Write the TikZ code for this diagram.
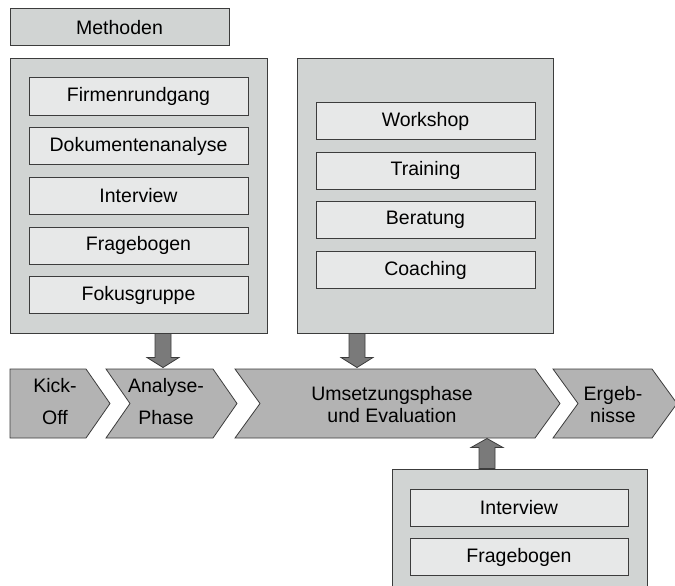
\documentclass[tikz,border=0pt]{standalone}
\usepackage{fontspec}
\setmainfont{Liberation Sans}
\definecolor{panelgray}{HTML}{D1D4D3}
\definecolor{itemgray}{HTML}{E7E8E8}
\definecolor{phasegray}{HTML}{B3B3B3}
\definecolor{arrowgray}{HTML}{7A7A7A}
\definecolor{edgegray}{HTML}{3C3C3C}
\begin{document}
\begin{tikzpicture}[x=1pt,y=-1pt,
  every node/.style={font=\fontsize{19.5}{22}\selectfont, inner sep=0pt},
  panel/.style={draw=edgegray, line width=1pt, fill=panelgray, rectangle},
  item/.style={draw=edgegray, line width=1pt, fill=itemgray, rectangle,
    minimum width=219pt, minimum height=37pt},
  phase/.style={draw=edgegray, line width=0.8pt, fill=phasegray, line join=miter},
  blockarrow/.style={draw=edgegray, line width=0.8pt, fill=arrowgray, line join=miter},
  phasetext/.style={align=center}]
\useasboundingbox (0,0) rectangle (675,586);
\clip (0,0) rectangle (675,586);

% heading
\node[panel, minimum width=219pt, minimum height=37pt] (methoden) at (119.5,27.5) {Methoden};

% analysis methods
\node[panel, minimum width=257pt, minimum height=274pt] (leftbox) at (138.5,196) {};
\node[item] (firmen) at (138.5,96.5) {Firmenrundgang};
\node[item] (doku)   at (138.5,146.2) {Dokumentenanalyse};
\node[item] (intA)   at (138.5,195.9) {Interview};
\node[item] (frageA) at (138.5,245.6) {Fragebogen};
\node[item] (fokus)  at (138.5,295.3) {Fokusgruppe};

% implementation methods
\node[panel, minimum width=256pt, minimum height=274pt] (midbox) at (425,196) {};
\node[item] (workshop) at (425.5,121) {Workshop};
\node[item] (training) at (425.5,170.5) {Training};
\node[item] (beratung) at (425.5,220.2) {Beratung};
\node[item] (coaching) at (425.5,270) {Coaching};

% evaluation methods
\node[panel, minimum width=255pt, minimum height=140pt] (botbox) at (519.5,539) {};
\node[item, minimum width=218pt] (intB)   at (519,507.5) {Interview};
\node[item, minimum width=218pt] (frageB) at (519,557) {Fragebogen};

% phase chevrons
\draw[phase] (10,369) -- (86,369) -- (110,403.5) -- (86,438) -- (10,438) -- cycle;
\draw[phase] (106,369) -- (213,369) -- (237,403.5) -- (213,438) -- (106,438) -- (130,403.5) -- cycle;
\draw[phase] (235,369) -- (535,369) -- (560,403.5) -- (535,438) -- (235,438) -- (260,403.5) -- cycle;
\draw[phase] (553,369) -- (652,369) -- (677,403.5) -- (652,438) -- (553,438) -- (578,403.5) -- cycle;
\node[phasetext] (kick) at (55,402) {Kick-\\[10pt]Off};
\node[phasetext] (analyse) at (166,402) {Analyse-\\[10pt]Phase};
\node[phasetext] (umsetzung) at (392,405) {Umsetzungsphase\\und Evaluation};
\node[phasetext] (ergebnisse) at (613,405) {Ergeb-\\nisse};

% block arrows between panels and phases
\draw[blockarrow] ([xshift=16.5pt]leftbox.south) -- ++(16,0) -- ++(0,24) -- ++(8,0)
  -- ++(-16,10) -- ++(-16,-10) -- ++(8,0) -- cycle;
\draw[blockarrow] ([xshift=-76pt]midbox.south) -- ++(16,0) -- ++(0,24) -- ++(8,0)
  -- ++(-16,10) -- ++(-16,-10) -- ++(8,0) -- cycle;
\draw[blockarrow] ([xshift=-40.5pt]botbox.north) -- ++(16,0) -- ++(0,-21) -- ++(8,0)
  -- ++(-16,-9) -- ++(-16,9) -- ++(8,0) -- cycle;
\end{tikzpicture}
\end{document}
